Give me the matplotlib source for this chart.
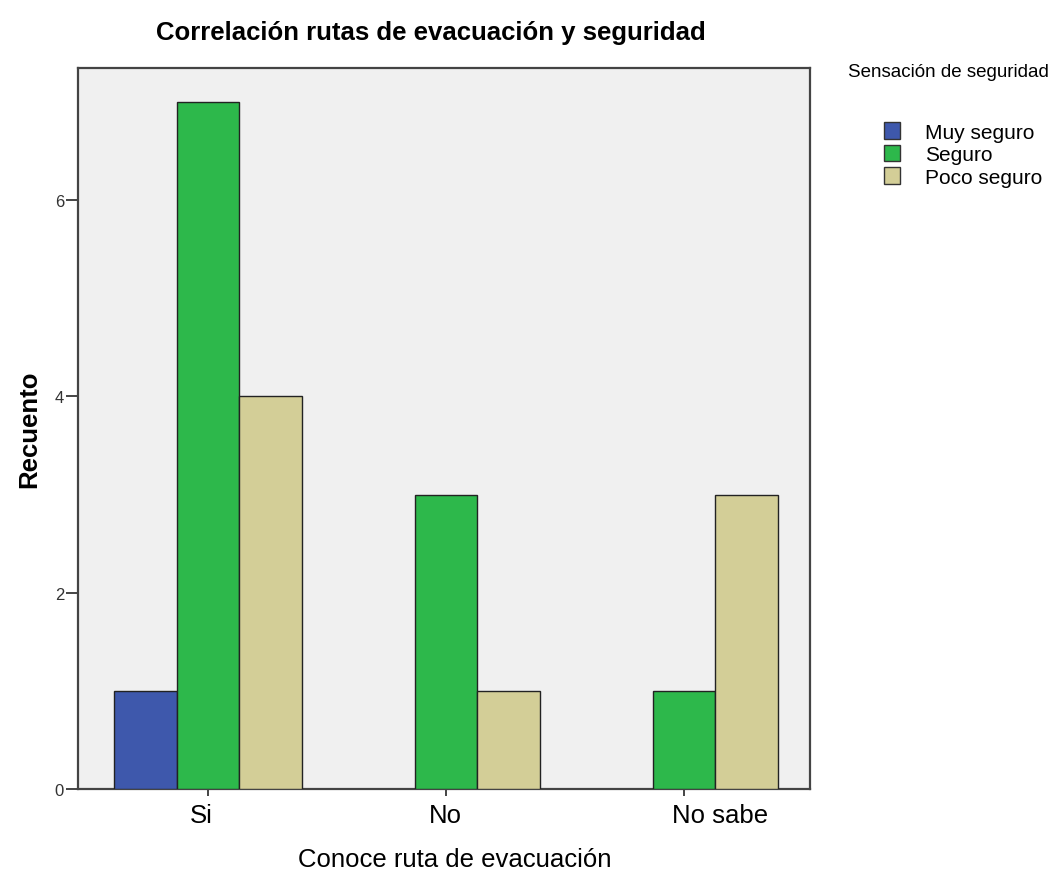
import matplotlib
matplotlib.use("Agg")
import matplotlib.pyplot as plt
import matplotlib.transforms as mtransforms
import numpy as np

categories = ["Si", "No", "No sabe"]
series_names = ["Muy seguro", "Seguro", "Poco seguro"]
muy_seguro = [1, 0, 0]
seguro = [7, 3, 1]
poco_seguro = [4, 1, 3]
colors = ["#3e58ac", "#2db84b", "#d3ce97"]

plt.rcParams['font.family'] = ['Liberation Sans', 'DejaVu Sans']

fig = plt.figure(figsize=(10.53, 8.70), dpi=100)
ax = fig.add_axes([0.074, 0.092, 0.695, 0.829])
ax.set_facecolor("#f0f0f0")

x = np.arange(len(categories))
width = 0.263
all_series = [muy_seguro, seguro, poco_seguro]
handles = []
for i, (name, vals) in enumerate(zip(series_names, all_series)):
    offs = (i - 1) * width
    xs = [xi + offs for xi, v in zip(x, vals) if v > 0]
    vs = [v for v in vals if v > 0]
    ax.bar(xs, vs, width=width, color=colors[i], edgecolor="#222222", linewidth=1.0, zorder=3)
    handles.append(plt.Rectangle((0, 0), 1, 1, facecolor=colors[i], edgecolor="#333333", linewidth=1.0))

ax.set_xlim(-0.546, 2.529)
ax.set_ylim(0, 7.35)
ax.set_yticks([0, 2, 4, 6])
ax.set_xticks(x)
ax.set_xticklabels(categories, fontsize=18.5)
ax.tick_params(axis='y', labelsize=12, length=9, width=1.4, color="#444444", pad=1, labelcolor="#333333")
ax.tick_params(axis='x', length=5, width=1.4, color="#444444", pad=5)
for s in ax.spines.values():
    s.set_color("#444444")
    s.set_linewidth(1.6)

# SPSS puts the last label a bit to the right of its tick
lbl = ax.get_xticklabels()[2]
lbl.set_transform(lbl.get_transform() + mtransforms.ScaledTranslation(0.36, 0, fig.dpi_scale_trans))
lbl = ax.get_xticklabels()[0]
lbl.set_transform(lbl.get_transform() + mtransforms.ScaledTranslation(-0.07, 0, fig.dpi_scale_trans))

ax.set_ylabel("Recuento", fontsize=18.5, fontweight='bold', labelpad=10)
ax.set_xlabel("Conoce ruta de evacuación", fontsize=18.5, labelpad=13)
ax.xaxis.set_label_coords(0.515, -0.08)
fig.text(431 / 1053, 1 - 33 / 870, "Correlación rutas de evacuación y seguridad",
         fontsize=18.5, fontweight='bold', ha='center', va='center')

fig.text(0.805, 0.917, "Sensación de seguridad", fontsize=13.5, ha='left', va='center')
fig.legend(handles, series_names, loc='upper left', bbox_to_anchor=(0.832, 0.868),
           frameon=False, fontsize=15, handlelength=0.75, handleheight=0.85,
           handletextpad=1.2, labelspacing=0.15, borderaxespad=0)

fig.savefig("out.png", dpi=100)
